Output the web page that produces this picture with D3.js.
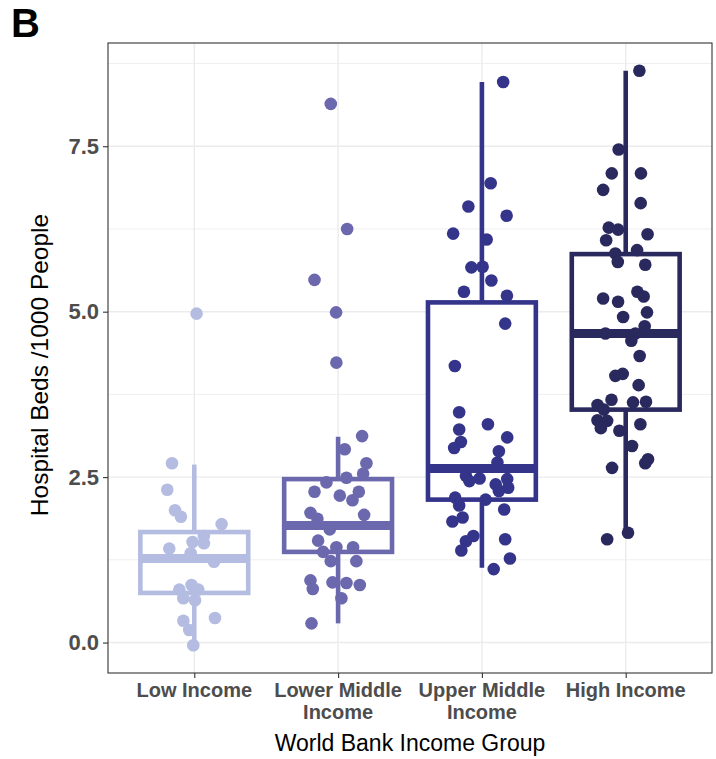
<!DOCTYPE html>
<html>
<head>
<meta charset="utf-8">
<script src="https://cdn.jsdelivr.net/npm/d3@7"></script>
<style>
  body { margin: 0; background: #fff; }
  svg { display: block; font-family: "Liberation Sans", Arial, sans-serif; }
</style>
</head>
<body>
<div id="chart"></div>
<script>
// income groups, x order
const groups = ['Low Income', 'Lower Middle Income', 'Upper Middle Income', 'High Income'];
const groupLines = [['Low Income'], ['Lower Middle', 'Income'], ['Upper Middle', 'Income'], ['High Income']];
const colors = ['#b4bde1', '#6c68ae', '#35348b', '#2a295e'];

// hospital beds per 1000 people, one array per group
const lowVals = [4.97,2.71,2.31,2.00,1.90,1.79,1.61,1.52,1.50,1.42,1.35,1.22,0.87,0.80,0.80,0.67,0.64,0.33,0.37,0.19,-0.04];
const lowerMidVals = [8.14,6.25,5.48,4.99,4.23,3.12,2.92,2.71,2.55,2.49,2.42,2.28,2.28,2.22,2.15,1.96,1.87,1.93,1.71,1.54,1.44,1.44,1.37,1.23,1.23,0.94,0.81,0.91,0.90,0.87,0.67,0.29];
const upperMidVals = [8.47,6.94,6.59,6.45,6.18,6.09,5.67,5.68,5.47,5.30,5.24,4.82,4.18,3.48,3.22,3.30,3.03,2.94,3.10,2.89,2.72,2.52,2.48,2.44,2.39,2.47,2.34,2.29,2.19,2.16,2.07,1.89,1.83,2.01,1.61,1.53,1.39,1.56,1.27,1.11];
const highVals = [8.64,7.45,7.09,7.09,6.84,6.64,6.27,6.24,6.17,6.08,5.88,5.93,5.75,5.71,5.20,5.30,5.23,5.15,4.99,4.92,4.78,4.67,4.67,4.56,4.33,4.03,4.06,3.89,3.67,3.63,3.64,3.59,3.52,3.36,3.35,3.24,3.20,3.30,2.97,2.64,2.71,2.77,1.66,1.56];

// horizontal jitter, in category units
const lowJit = [0.016,-0.155,-0.188,-0.134,-0.093,0.190,0.067,-0.012,0.067,-0.174,-0.025,0.137,-0.019,-0.104,0.028,-0.076,0.005,-0.076,0.144,-0.035,-0.007];
const lowerMidJit = [-0.051,0.063,-0.164,-0.014,-0.012,0.167,0.046,0.197,0.174,0.058,-0.081,-0.164,0.144,0.012,0.100,-0.192,-0.144,0.181,-0.058,-0.139,-0.012,0.104,-0.104,0.127,-0.051,-0.192,-0.176,-0.039,0.058,0.151,0.023,-0.185];
const upperMidJit = [0.148,0.061,-0.094,0.172,-0.200,0.033,-0.073,0.005,0.066,-0.125,0.174,0.162,-0.188,-0.158,-0.158,0.042,-0.146,-0.193,0.176,0.118,0.108,-0.111,-0.016,-0.087,0.096,0.176,0.183,0.118,-0.186,0.026,-0.158,-0.134,-0.205,0.155,-0.059,-0.111,-0.143,0.162,0.195,0.082];
const highJit = [0.095,-0.049,-0.097,0.106,-0.157,0.104,-0.118,-0.053,0.152,-0.136,-0.072,0.079,-0.055,0.136,-0.157,0.081,0.125,-0.053,0.148,-0.018,0.132,-0.141,0.067,0.039,0.097,-0.072,-0.021,0.090,-0.099,0.051,0.141,-0.196,-0.152,-0.196,-0.129,-0.173,-0.044,0.102,0.044,-0.095,0.136,0.155,0.016,-0.129];

// box statistics per group
const q1 = [0.75, 1.37, 2.16, 3.52];
const medians = [1.27, 1.77, 2.63, 4.67];
const q3 = [1.67, 2.47, 5.14, 5.87];
const whiskerLo = [-0.04, 0.29, 1.13, 1.66];
const whiskerHi = [2.69, 3.11, 8.47, 8.64];

const yTicks = [0, 2.5, 5, 7.5];
const yMinor = [1.25, 3.75, 6.25, 8.75];

const allVals = [lowVals, lowerMidVals, upperMidVals, highVals];
const allJit = [lowJit, lowerMidJit, upperMidJit, highJit];

const W = 716, H = 759;
const panel = { left: 108, right: 712, top: 43, bottom: 673 };

const svg = d3.select('#chart').append('svg').attr('width', W).attr('height', H);
svg.append('rect').attr('width', W).attr('height', H).attr('fill', '#fff');

const x = d3.scalePoint().domain(groups).range([panel.left, panel.right]).padding(0.6);
const y = d3.scaleLinear().domain([-0.46, 9.06]).range([panel.bottom, panel.top]);
const step = x.step();

// gridlines
const grid = svg.append('g');
grid.selectAll('.minor').data(yMinor).enter().append('line')
  .attr('x1', panel.left).attr('x2', panel.right)
  .attr('y1', d => y(d)).attr('y2', d => y(d))
  .attr('stroke', '#ebebeb').attr('stroke-width', 0.8);
grid.selectAll('.major').data(yTicks).enter().append('line')
  .attr('x1', panel.left).attr('x2', panel.right)
  .attr('y1', d => y(d)).attr('y2', d => y(d))
  .attr('stroke', '#ebebeb').attr('stroke-width', 1.4);
grid.selectAll('.vmajor').data(groups).enter().append('line')
  .attr('x1', d => x(d)).attr('x2', d => x(d))
  .attr('y1', panel.top).attr('y2', panel.bottom)
  .attr('stroke', '#ebebeb').attr('stroke-width', 1.4);

// boxplots
const bw = 0.75 * step;
const boxes = svg.append('g');
groups.forEach((g, i) => {
  const cx = x(g);
  const c = colors[i];
  boxes.append('line').attr('x1', cx).attr('x2', cx)
    .attr('y1', y(q3[i])).attr('y2', y(whiskerHi[i]))
    .attr('stroke', c).attr('stroke-width', 4.6);
  boxes.append('line').attr('x1', cx).attr('x2', cx)
    .attr('y1', y(q1[i])).attr('y2', y(whiskerLo[i]))
    .attr('stroke', c).attr('stroke-width', 4.6);
  boxes.append('rect')
    .attr('x', cx - bw / 2).attr('width', bw)
    .attr('y', y(q3[i])).attr('height', y(q1[i]) - y(q3[i]))
    .attr('fill', '#fff').attr('stroke', c).attr('stroke-width', 4.6);
  boxes.append('line').attr('x1', cx - bw / 2).attr('x2', cx + bw / 2)
    .attr('y1', y(medians[i])).attr('y2', y(medians[i]))
    .attr('stroke', c).attr('stroke-width', 9);
});

// jittered points
const pts = svg.append('g');
allVals.forEach((vals, i) => {
  pts.selectAll(null).data(vals).enter().append('circle')
    .attr('cx', (d, j) => x(groups[i]) + allJit[i][j] * step)
    .attr('cy', d => y(d))
    .attr('r', 6.3)
    .attr('fill', colors[i]);
});

// panel border
svg.append('rect')
  .attr('x', panel.left).attr('y', panel.top)
  .attr('width', panel.right - panel.left).attr('height', panel.bottom - panel.top)
  .attr('fill', 'none').attr('stroke', '#333').attr('stroke-width', 1.1);

// y axis
const yAxis = svg.append('g').attr('transform', `translate(${panel.left},0)`)
  .call(d3.axisLeft(y).tickValues(yTicks).tickFormat(d3.format('.1f')).tickSize(5).tickPadding(4));
yAxis.select('.domain').remove();
yAxis.selectAll('line').attr('stroke', '#333').attr('stroke-width', 1.1);
yAxis.selectAll('text').attr('fill', '#4d4d4d').attr('font-size', 22).attr('font-weight', 'bold')
  .attr('font-family', '"Liberation Sans", Arial, sans-serif');

// x axis
const xAxis = svg.append('g').attr('transform', `translate(0,${panel.bottom})`)
  .call(d3.axisBottom(x).tickSize(5).tickFormat(''));
xAxis.select('.domain').remove();
xAxis.selectAll('line').attr('stroke', '#333').attr('stroke-width', 1.1);

const xl = svg.append('g');
groups.forEach((g, i) => {
  const t = xl.append('text').attr('x', x(g)).attr('y', 697)
    .attr('text-anchor', 'middle').attr('fill', '#4d4d4d')
    .attr('font-size', 20).attr('font-weight', 'bold');
  groupLines[i].forEach((ln, k) => {
    t.append('tspan').attr('x', x(g)).attr('dy', k === 0 ? 0 : 22).text(ln);
  });
});

// titles
svg.append('text').attr('x', 410).attr('y', 751).attr('text-anchor', 'middle')
  .attr('font-size', 23).attr('fill', '#000').text('World Bank Income Group');
svg.append('text').attr('transform', 'translate(48,365) rotate(-90)')
  .attr('text-anchor', 'middle').attr('font-size', 24.5).attr('fill', '#000')
  .text('Hospital Beds /1000 People');

svg.append('text').attr('x', 11).attr('y', 37).attr('font-size', 40).attr('font-weight', 'bold')
  .attr('fill', '#000').text('B');
</script>
</body>
</html>
